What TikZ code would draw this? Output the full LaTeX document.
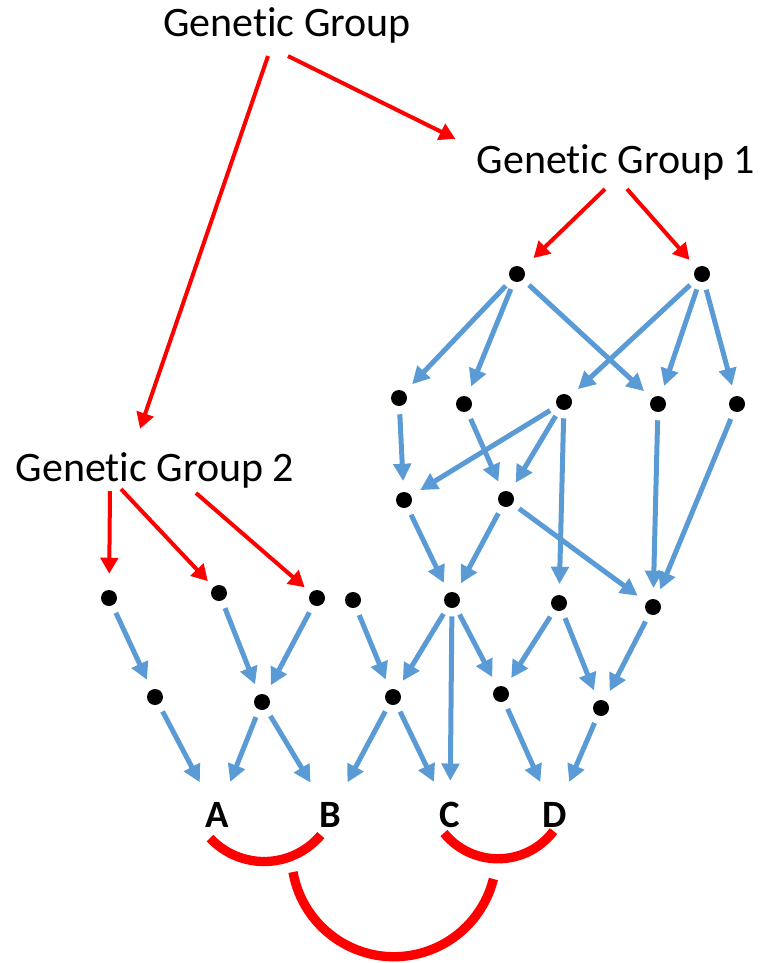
\documentclass[tikz,border=0pt]{standalone}
\usepackage{fontspec}
\setmainfont[Ligatures=CommonOff]{Carlito}
\usetikzlibrary{arrows.meta}
\definecolor{linkblue}{HTML}{5B9BD5}
\definecolor{groupred}{HTML}{FF0000}

\begin{document}
\begin{tikzpicture}[x=0.75pt, y=-0.75pt,
  dot/.style={circle, fill=black, inner sep=0pt, minimum size=12pt},
  group/.style={inner sep=0pt, anchor=base, font=\fontsize{31.5}{38}\selectfont},
  letter/.style={inner sep=0pt, outer sep=8pt, font=\fontsize{29}{34}\selectfont\bfseries},
  link/.style={-{Triangle[length=13pt, width=13pt]}, linkblue, line width=3.75pt,
    shorten <=6pt, shorten >=8pt},
  descent/.style={-{Triangle[length=12pt, width=13pt]}, groupred, line width=3pt},
  pair/.style={groupred, line width=7pt}]
  \useasboundingbox (0,0) rectangle (760,963);

  % group labels
  \node[group] (gg)  at (287,37)  {Genetic Group};
  \node[group] (gg1) at (616,173) {Genetic Group 1};
  \node[group] (gg2) at (155,481) {Genetic Group 2};

  % individuals, row by row
  \foreach \n/\x/\y in {a1/517/274, a2/702/274,
      b1/399/398, b2/464/404, b3/564/402, b4/658/404, b5/737/404,
      c1/404/500, c2/506/499,
      d1/109/598, d2/219/593, d3/317/598, d4/353/600, d5/452/600, d6/559/603, d7/653/607,
      e1/155/697, e2/262/702, e3/393/697, e4/501/694, e5/601/708} {
    \node[dot] (\n) at (\x,\y) {};
  }

  % the four studied individuals
  \node[letter] (A) at (217,815) {A};
  \node[letter] (B) at (330,815) {B};
  \node[letter] (C) at (450,815) {C};
  \node[letter] (D) at (555,815) {D};

  % genetic group links
  \draw[descent] ([shift={(1,12)}]gg.south) -- ([shift={(-21,-5)}]gg1.north west);
  \draw[descent] ([shift={(-19,12)}]gg.south) -- ([shift={(-15,-23)}]gg2.north);
  \draw[descent, shorten >=11pt] ([shift={(-11,9)}]gg1.south) -- (a1);
  \draw[descent, shorten >=8pt] ([shift={(11,9)}]gg1.south) -- (a2);
  \draw[descent, shorten >=12pt] ([shift={(-45,3)}]gg2.south) -- (d1);
  \draw[descent, shorten >=6pt] ([shift={(-34,1)}]gg2.south) -- (d2);
  \draw[descent, shorten >=6pt] ([shift={(41,5)}]gg2.south) -- (d3);

  % pedigree links
  \foreach \from/\to in {a1/b1, a1/b2, a1/b4, a2/b3, a2/b4, a2/b5,
      b1/c1, b2/c2, b3/c1, b3/c2, b3/d6, b4/d7, b5/d7,
      c1/d5, c2/d5, c2/d7,
      d1/e1, d2/e2, d3/e2, d4/e3, d5/e3, d5/C, d5/e4, d6/e4, d6/e5, d7/e5,
      e1/A, e2/A, e2/B, e3/B, e3/C, e4/D, e5/D} {
    \draw[link] (\from) -- (\to);
  }

  % pairings
  \coordinate (ab) at (210,838);
  \coordinate (cd) at (444,833);
  \coordinate (abcd) at (293,872);
  \draw[pair] (ab) arc[start angle=137, end angle=40, radius=74];
  \draw[pair] (cd) arc[start angle=141, end angle=37, radius=69.5];
  \draw[pair] (abcd) arc[start angle=170, end angle=14, radius=102.5];
\end{tikzpicture}
\end{document}
